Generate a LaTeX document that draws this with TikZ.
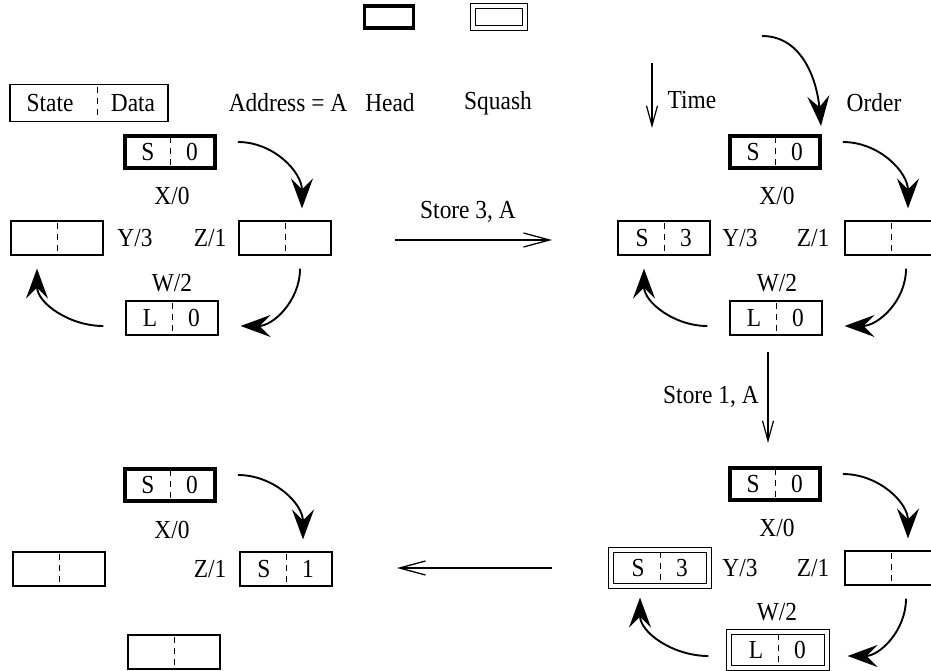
\documentclass[tikz,border=0pt]{standalone}
\usepackage{fontspec}
\setmainfont{Liberation Serif}[FakeStretch=0.9]
\usetikzlibrary{arrows.meta}

% A two-field cell: a box split by a dashed line, state on the left, data on the right
\newcommand\sdcell[5][cell]{%
  \node[#1] (#2) at (#3) {};
  \draw[divider] ([yshift=-3pt]#2.north) -- ([yshift=3pt]#2.south);
  \node[lbl] (#2-s) at ([xshift=-22pt]#2.center) {#4};
  \node[lbl] (#2-d) at ([xshift=22pt]#2.center) {#5};
}

\begin{document}
\begin{tikzpicture}[x=1pt,y=1pt,
  every node/.style={font=\fontsize{26}{30}\selectfont},
  cell/.style={draw, line width=1.2pt, minimum width=92pt, minimum height=34pt, inner sep=0pt},
  headcell/.style={cell, line width=3.6pt, minimum width=90pt, minimum height=32pt},
  squashcell/.style={cell, double, double distance=3.6pt, line width=1.1pt,
    minimum width=98pt, minimum height=36pt},
  divider/.style={line width=1pt, dash pattern=on 6pt off 5pt},
  cyc/.style={line width=1.9pt, -{Stealth[length=30pt, width=22pt, inset=11pt]}},
  flow/.style={line width=1.3pt, -{Straight Barb[length=26pt, width=14pt, line width=1.3pt]}},
  tflow/.style={line width=1.2pt, -{Straight Barb[length=20pt, width=11pt, line width=1.2pt]}},
  lbl/.style={inner sep=0pt}
]
\useasboundingbox (0,0) rectangle (931,-671);
\clip (0,0) rectangle (931,-671);

% ---------- legend ----------
\node[cell, minimum width=158pt, minimum height=37pt] (key) at (89,-103) {};
\draw[divider] ([yshift=-3pt]key.north -| 97,0) -- ([yshift=3pt]key.south -| 97,0);
\node[lbl] (key-s) at (50,-103) {State};
\node[lbl] (key-d) at (133,-103) {Data};
\node[lbl] (addr) at (288,-103) {Address = A};

\node[headcell, minimum width=49pt, minimum height=22pt] (khead) at (389,-17) {};
\node[lbl] (kheadl) at (390,-103) {Head};
\node[squashcell, minimum width=52pt, minimum height=22pt] (ksq) at (499,-17) {};
\node[lbl] (ksql) at (498,-103) {Squash};

\coordinate (t0) at (652,-63);
\coordinate (t1) at (652,-128);
\draw[tflow] (t0) -- (t1);
\node[lbl] (timel) at (692,-100) {Time};

\coordinate (o0) at (762,-36);
\coordinate (o1) at (821,-126);
\draw[cyc] (o0) to[out=0,in=95] (o1);
\node[lbl] (orderl) at (874,-103) {Order};

% ---------- panel 1 (top left) ----------
\sdcell[headcell]{p1h}{170,-152}{S}{0}
\node[lbl] (p1x) at (172,-196) {X/0};
\sdcell{p1l}{57,-238}{}{}
\node[lbl] (p1y) at (135,-238) {Y/3};
\node[lbl] (p1z) at (210,-238) {Z/1};
\sdcell{p1r}{285,-238}{}{}
\node[lbl] (p1w) at (172,-283) {W/2};
\sdcell{p1b}{172,-318}{L}{0}
\draw[cyc] ([shift={(21,10)}]p1h.east) to[out=0,in=90] ([shift={(17,12)}]p1r.north);
\draw[cyc] ([shift={(15,-13)}]p1r.south) to[out=-90,in=0] ([shift={(22,-8)}]p1b.east);
\draw[cyc] ([shift={(-22,-8)}]p1b.west) to[out=180,in=-90] ([shift={(-20,-13)}]p1l.south);

% Store 3, A
\coordinate (s3a) at (395,-240);
\coordinate (s3b) at (552,-240);
\draw[flow] (s3a) -- (s3b);
\node[lbl] (s3l) at (468,-212) {Store 3, A};

% ---------- panel 2 (top right) ----------
\sdcell[headcell]{p2h}{775,-152}{S}{0}
\node[lbl] (p2x) at (777,-196) {X/0};
\sdcell{p2l}{664,-238}{S}{3}
\node[lbl] (p2y) at (740,-238) {Y/3};
\node[lbl] (p2z) at (813,-238) {Z/1};
\sdcell{p2r}{891,-238}{}{}
\node[lbl] (p2w) at (777,-283) {W/2};
\sdcell{p2b}{776,-318}{L}{0}
\draw[cyc] ([shift={(21,10)}]p2h.east) to[out=0,in=90] ([shift={(17,12)}]p2r.north);
\draw[cyc] ([shift={(15,-13)}]p2r.south) to[out=-90,in=0] ([shift={(22,-8)}]p2b.east);
\draw[cyc] ([shift={(-22,-8)}]p2b.west) to[out=180,in=-90] ([shift={(-20,-13)}]p2l.south);

% Store 1, A
\coordinate (s1a) at (768,-352);
\coordinate (s1b) at (768,-443);
\draw[tflow] (s1a) -- (s1b);
\node[lbl] (s1l) at (711,-397) {Store 1, A};

% ---------- panel 3 (bottom right) ----------
\sdcell[headcell]{p3h}{775,-484}{S}{0}
\node[lbl] (p3x) at (777,-528) {X/0};
\sdcell[squashcell]{p3l}{660,-568}{S}{3}
\node[lbl] (p3y) at (740,-568) {Y/3};
\node[lbl] (p3z) at (813,-568) {Z/1};
\sdcell{p3r}{891,-568}{}{}
\node[lbl] (p3w) at (777,-612) {W/2};
\sdcell[squashcell]{p3b}{778,-650}{L}{0}
\draw[cyc] ([shift={(21,10)}]p3h.east) to[out=0,in=90] ([shift={(17,12)}]p3r.north);
\draw[cyc] ([shift={(15,-13)}]p3r.south) to[out=-90,in=0] ([shift={(20,-6)}]p3b.east);
\draw[cyc] ([shift={(-20,-6)}]p3b.west) to[out=180,in=-90] ([shift={(-20,-11)}]p3l.south);

% back arrow
\coordinate (bka) at (552,-568);
\coordinate (bkb) at (397,-568);
\draw[flow] (bka) -- (bkb);

% ---------- panel 4 (bottom left) ----------
\sdcell[headcell]{p4h}{170,-485}{S}{0}
\node[lbl] (p4x) at (172,-530) {X/0};
\sdcell{p4l}{59,-569}{}{}
\node[lbl] (p4z) at (210,-569) {Z/1};
\sdcell{p4r}{286,-569}{S}{1}
\sdcell{p4b}{174,-652}{}{}
\draw[cyc] ([shift={(21,10)}]p4h.east) to[out=0,in=90] ([shift={(17,12)}]p4r.north);
\end{tikzpicture}
\end{document}
